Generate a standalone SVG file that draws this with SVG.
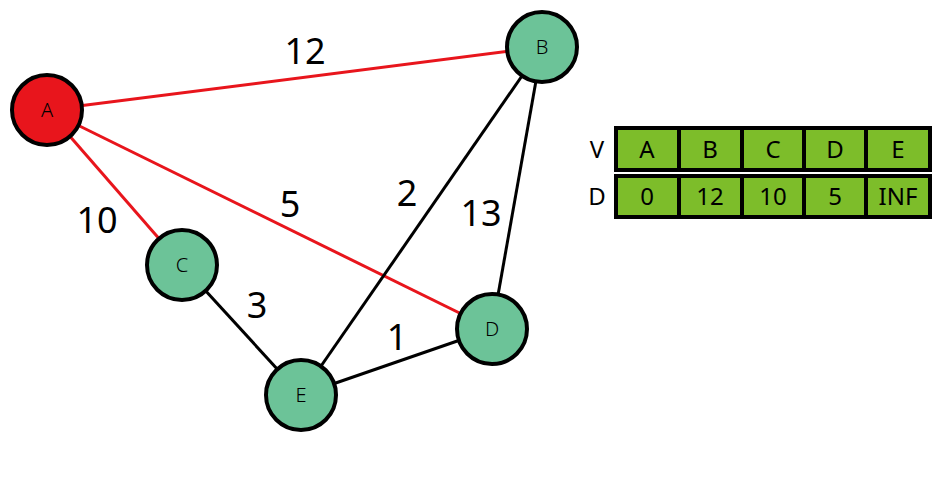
<svg xmlns="http://www.w3.org/2000/svg" width="952" height="479" viewBox="0 0 952 479">
<style>
.e{stroke-width:3;fill:none}
.r{stroke:#e8151c}
.k{stroke:#000}
.n{stroke:#000;stroke-width:4;fill:#6cc398}
.nl{font-family:"Noto Sans","Open Sans",sans-serif;font-size:20px;font-weight:300;text-anchor:middle;fill:#000}
.wl{font-family:"Noto Sans","Open Sans",sans-serif;font-size:36px;text-anchor:middle;fill:#000}
.c{fill:#7dbd2a;stroke:#000;stroke-width:4}
.t{font-family:"Noto Sans","Open Sans",sans-serif;font-size:24px;text-anchor:middle;fill:#000}
</style>
<rect width="952" height="479" fill="#fff"/>
<g id="connectors">
<line class="e r" x1="47" y1="110" x2="542" y2="47"/>
<line class="e r" x1="47" y1="110" x2="182" y2="265"/>
<line class="e r" x1="47" y1="110" x2="492" y2="329"/>
<line class="e k" x1="542" y1="47" x2="301" y2="395"/>
<line class="e k" x1="542" y1="47" x2="492" y2="329"/>
<line class="e k" x1="182" y1="265" x2="301" y2="395"/>
<line class="e k" x1="301" y1="395" x2="492" y2="329"/>
<text class="wl" x="305" y="64">12</text>
<text class="wl" x="97" y="233">10</text>
<text class="wl" x="290" y="217">5</text>
<text class="wl" x="407" y="206">2</text>
<text class="wl" x="481" y="226">13</text>
<text class="wl" x="257" y="318">3</text>
<text class="wl" x="397" y="350">1</text>
</g>
<g id="A"><circle cx="47" cy="110" r="35" class="n" style="fill:#e8151c"/><text class="nl" x="47" y="117">A</text></g>
<g id="B"><circle cx="542" cy="47" r="35" class="n"/><text class="nl" x="542" y="54">B</text></g>
<g id="C"><circle cx="182" cy="265" r="35" class="n"/><text class="nl" x="182" y="272">C</text></g>
<g id="D"><circle cx="492" cy="329" r="35" class="n"/><text class="nl" x="492" y="336">D</text></g>
<g id="E"><circle cx="301" cy="395" r="35" class="n"/><text class="nl" x="301" y="402">E</text></g>
<g id="table">
<text class="t" x="597" y="158">V</text>
<text class="t" x="597" y="205">D</text>
<rect class="c" x="616" y="128" width="63" height="42"/>
<rect class="c" x="679" y="128" width="63" height="42"/>
<rect class="c" x="742" y="128" width="62" height="42"/>
<rect class="c" x="804" y="128" width="62" height="42"/>
<rect class="c" x="866" y="128" width="64" height="42"/>
<rect class="c" x="616" y="176" width="63" height="41"/>
<rect class="c" x="679" y="176" width="63" height="41"/>
<rect class="c" x="742" y="176" width="62" height="41"/>
<rect class="c" x="804" y="176" width="62" height="41"/>
<rect class="c" x="866" y="176" width="64" height="41"/>
<text class="t" x="647" y="158">A</text>
<text class="t" x="710" y="158">B</text>
<text class="t" x="773" y="158">C</text>
<text class="t" x="835" y="158">D</text>
<text class="t" x="898" y="158">E</text>
<text class="t" x="647" y="205">0</text>
<text class="t" x="710" y="205">12</text>
<text class="t" x="773" y="205">10</text>
<text class="t" x="835" y="205">5</text>
<text class="t" x="898" y="205">INF</text>
</g>
</svg>
